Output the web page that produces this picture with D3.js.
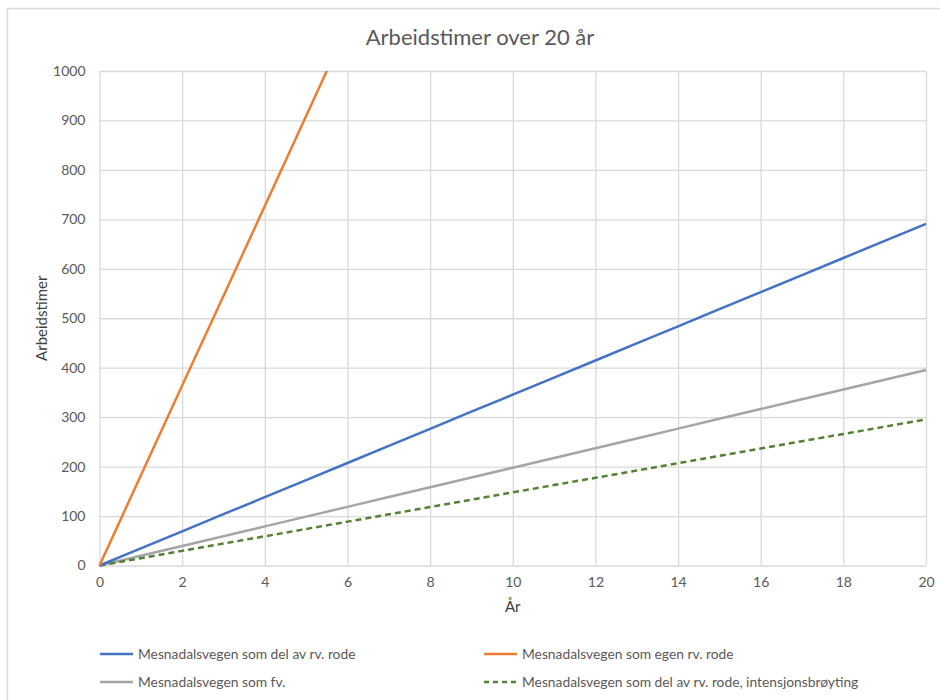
<!DOCTYPE html>
<html>
<head>
<meta charset="utf-8">
<script src="https://cdn.jsdelivr.net/npm/d3@7/dist/d3.min.js"></script>
<style>
  html, body { margin: 0; padding: 0; background: #fff; }
  svg { display: block; font-family: Lato, "Noto Sans", sans-serif; }
</style>
</head>
<body>
<svg id="chart" width="940" height="700"></svg>
<script>
// Working hours accumulated per year over a 20-year period
const years = [0, 1, 2, 3, 4, 5, 6, 7, 8, 9, 10, 11, 12, 13, 14, 15, 16, 17, 18, 19, 20];

const delAvRvRode = [0, 34.6, 69.1, 103.7, 138.2, 172.8, 207.3, 241.9, 276.4, 311.0, 345.5,
  380.1, 414.6, 449.2, 483.7, 518.3, 552.8, 587.4, 621.9, 656.5, 691.0];
const egenRvRode = [0, 182, 364, 545, 727, 909, 1091, 1273, 1454, 1636, 1818,
  2000, 2182, 2363, 2545, 2727, 2909, 3091, 3272, 3454, 3636];
const somFv = [0, 19.8, 39.5, 59.3, 79.1, 98.9, 118.6, 138.4, 158.2, 177.9, 197.7,
  217.5, 237.2, 257.0, 276.8, 296.6, 316.3, 336.1, 355.9, 375.6, 395.4];
const intensjon = [0, 14.8, 29.6, 44.3, 59.1, 73.9, 88.7, 103.5, 118.2, 133.0, 147.8,
  162.6, 177.4, 192.1, 206.9, 221.7, 236.5, 251.3, 266.0, 280.8, 295.6];

const seriesNames = [
  "Mesnadalsvegen som del av rv. rode",
  "Mesnadalsvegen som egen rv. rode",
  "Mesnadalsvegen som fv.",
  "Mesnadalsvegen som del av rv. rode, intensjonsbrøyting"
];
const seriesValues = [delAvRvRode, egenRvRode, somFv, intensjon];
const seriesColors = ["#4472C4", "#ED7D31", "#A5A5A5", "#548235"];
const seriesDash = [null, null, null, "6,4"];

const xTicks = [0, 2, 4, 6, 8, 10, 12, 14, 16, 18, 20];
const yTicks = [0, 100, 200, 300, 400, 500, 600, 700, 800, 900, 1000];

const titleText = "Arbeidstimer over 20 år";
const yTitle = "Arbeidstimer";
const xTitle = "År";

const svg = d3.select("#chart");
const textColor = "#595959";
const gridColor = "#D9D9D9";

// chart frame
svg.append("rect")
  .attr("x", 7.5).attr("y", 8.5)
  .attr("width", 960).attr("height", 720)
  .attr("fill", "#fff")
  .attr("stroke", "#D9D9D9")
  .attr("stroke-width", 1.5);

const plot = { left: 99.5, right: 926, top: 71, bottom: 565.5 };

const x = d3.scaleLinear().domain([0, 20]).range([plot.left, plot.right]);
const y = d3.scaleLinear().domain([0, 1000]).range([plot.bottom, plot.top]);

// title
svg.append("text")
  .attr("x", 480).attr("y", 45)
  .attr("text-anchor", "middle")
  .attr("fill", textColor)
  .attr("font-size", 22)
  .attr("font-weight", 400)
  .text(titleText);

// gridlines
const yAxis = d3.axisLeft(y).tickValues(yTicks).tickSize(-(plot.right - plot.left)).tickPadding(14).tickFormat(d3.format("d"));
const xAxis = d3.axisBottom(x).tickValues(xTicks).tickSize(-(plot.bottom - plot.top)).tickPadding(12).tickFormat(d3.format("d"));

const gy = svg.append("g").attr("transform", `translate(${plot.left},0)`).call(yAxis);
const gx = svg.append("g").attr("transform", `translate(0,${plot.bottom})`).call(xAxis);

[gx, gy].forEach(g => {
  g.select(".domain").remove();
  g.selectAll(".tick line").attr("stroke", gridColor).attr("stroke-width", 1.3);
  g.selectAll(".tick text")
    .attr("fill", textColor)
    .attr("font-size", 14)
    .attr("font-family", "Lato, 'Noto Sans', sans-serif");
});
gx.selectAll(".tick text").attr("dy", "0.71em");

// axis titles
svg.append("text")
  .attr("transform", `translate(47,${(plot.top + plot.bottom) / 2}) rotate(-90)`)
  .attr("text-anchor", "middle")
  .attr("fill", "#404040")
  .attr("font-size", 15)
  .text(yTitle);

svg.append("text")
  .attr("x", (plot.left + plot.right) / 2).attr("y", 612)
  .attr("text-anchor", "middle")
  .attr("fill", "#404040")
  .attr("font-size", 15)
  .text(xTitle);

// clip lines to plot area
svg.append("clipPath").attr("id", "plotClip")
  .append("rect")
  .attr("x", plot.left - 2).attr("y", plot.top)
  .attr("width", plot.right - plot.left + 4)
  .attr("height", plot.bottom - plot.top + 2);

const line = d3.line().x((d, i) => x(years[i])).y(d => y(d));

const drawOrder = [2, 3, 0, 1];
const lines = svg.append("g").attr("clip-path", "url(#plotClip)");
drawOrder.forEach(i => {
  lines.append("path")
    .datum(seriesValues[i])
    .attr("d", line)
    .attr("fill", "none")
    .attr("stroke", seriesColors[i])
    .attr("stroke-width", 2.5)
    .attr("stroke-dasharray", seriesDash[i])
    .attr("stroke-linejoin", "round");
});

// legend
const legendPos = [
  { x: 100, y: 654 },
  { x: 484, y: 654 },
  { x: 100, y: 682 },
  { x: 484, y: 682 }
];
const legend = svg.append("g");
seriesNames.forEach((name, i) => {
  const p = legendPos[i];
  legend.append("line")
    .attr("x1", p.x).attr("x2", p.x + 33)
    .attr("y1", p.y).attr("y2", p.y)
    .attr("stroke", seriesColors[i])
    .attr("stroke-width", 2.5)
    .attr("stroke-dasharray", seriesDash[i] ? "5,4" : null);
  legend.append("text")
    .attr("x", p.x + 38).attr("y", p.y)
    .attr("dy", "0.35em")
    .attr("fill", textColor)
    .attr("font-size", 13.8)
    .text(name);
});
</script>
</body>
</html>
